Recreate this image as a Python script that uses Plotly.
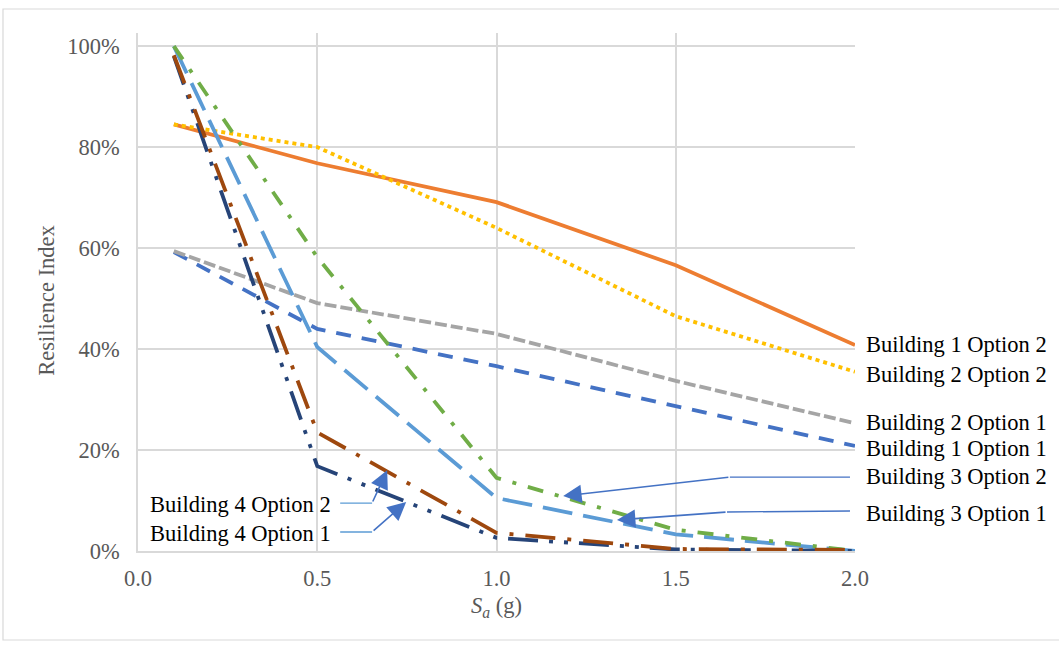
import plotly.graph_objects as go

# Spectral acceleration levels (g)
sa = [0.1, 0.5, 1.0, 1.5, 2.0]

# Resilience index per building / retrofit option
b1_opt1 = [0.592, 0.440, 0.366, 0.287, 0.208]
b1_opt2 = [0.845, 0.768, 0.691, 0.566, 0.408]
b2_opt1 = [0.594, 0.491, 0.430, 0.337, 0.253]
b2_opt2 = [0.845, 0.800, 0.640, 0.465, 0.355]
b3_opt1 = [1.000, 0.404, 0.105, 0.033, 0.000]
b3_opt2 = [1.000, 0.582, 0.145, 0.042, 0.000]
b4_opt1 = [0.980, 0.168, 0.026, 0.003, 0.000]
b4_opt2 = [0.982, 0.235, 0.036, 0.004, 0.002]

x_ticks = [0.0, 0.5, 1.0, 1.5, 2.0]
x_tick_text = ["0.0", "0.5", "1.0", "1.5", "2.0"]
y_ticks = [0.0, 0.2, 0.4, 0.6, 0.8, 1.0]
y_tick_text = ["0%", "20%", "40%", "60%", "80%", "100%"]

FONT = "Liberation Serif, Times New Roman, serif"
GRID = "#d9d9d9"
LW = 3.8
Y_TOP = 1.026

series = [
    ("Building 1 Option 1", b1_opt1, "#4472c4", "15px,11px"),
    ("Building 1 Option 2", b1_opt2, "#ed7d31", "solid"),
    ("Building 2 Option 1", b2_opt1, "#a5a5a5", "12px,4px"),
    ("Building 2 Option 2", b2_opt2, "#ffc000", "4px,4px"),
    ("Building 3 Option 1", b3_opt1, "#5b9bd5", "30px,11px"),
    ("Building 3 Option 2", b3_opt2, "#70ad47", "16px,12px,4px,12px"),
    ("Building 4 Option 1", b4_opt1, "#264478", "30px,11px,4px,11px,4px,11px"),
    ("Building 4 Option 2", b4_opt2, "#9e480e", "30px,12px,4px,12px"),
]

fig = go.Figure()
for name, vals, color, dash in series:
    fig.add_trace(go.Scatter(
        x=sa, y=vals, mode="lines", name=name,
        line=dict(color=color, width=LW, dash=dash),
        showlegend=False, hoverinfo="skip",
    ))

annotations = []
shapes = []

# Series labels beside the line ends (paper units, outside the plot area)
right_labels = [
    ("Building 1 Option 2", 0.410),
    ("Building 2 Option 2", 0.3505),
    ("Building 2 Option 1", 0.2555),
    ("Building 1 Option 1", 0.204),
    ("Building 3 Option 2", 0.1466),
    ("Building 3 Option 1", 0.0752),
]
for text, yv in right_labels:
    annotations.append(dict(
        x=1.0126, y=yv / Y_TOP, xref="paper", yref="paper", text=text,
        showarrow=False, xanchor="left", yanchor="middle",
        font=dict(family=FONT, size=22.5, color="#000000"),
    ))

left_labels = [
    ("Building 4 Option 2", 0.093),
    ("Building 4 Option 1", 0.034),
]
for text, yv in left_labels:
    annotations.append(dict(
        x=0.545, y=yv, xref="x", yref="y", text=text, showarrow=False,
        xanchor="right", yanchor="middle",
        font=dict(family=FONT, size=22.5, color="#000000"),
    ))

# Leader lines: (start, bend, arrow tip) in data units
leaders = [
    ((1.986, 0.1465), (1.651, 0.1465), (1.186, 0.109), "#4472c4"),
    ((1.986, 0.0792), (1.643, 0.0772), (1.336, 0.0614), "#4472c4"),
    ((0.564, 0.095), (0.653, 0.095), (0.695, 0.160), "#5b9bd5"),
    ((0.564, 0.0376), (0.653, 0.0376), (0.748, 0.097), "#5b9bd5"),
]
for (x0, y0), (x1, y1), (x2, y2), c in leaders:
    shapes.append(dict(type="line", xref="x", yref="y", x0=x0, y0=y0, x1=x1, y1=y1,
                       line=dict(color=c, width=1.3)))
    annotations.append(dict(
        x=x2, y=y2, ax=x1, ay=y1, xref="x", yref="y", axref="x", ayref="y",
        text="", showarrow=True, arrowhead=2, arrowsize=2.3, arrowwidth=1.6,
        arrowcolor="#4472c4", standoff=0, startstandoff=0,
    ))

# Axis titles
annotations.append(dict(
    x=-0.127, y=0.485, xref="paper", yref="paper", text="Resilience Index",
    textangle=-90, showarrow=False, xanchor="center", yanchor="middle",
    font=dict(family=FONT, size=22.5, color="#595959"),
))
annotations.append(dict(
    x=0.5, y=-0.108, xref="paper", yref="paper",
    text="<i>S<sub>a</sub></i> (g)", showarrow=False,
    xanchor="center", yanchor="middle",
    font=dict(family=FONT, size=22.5, color="#595959"),
))

# Chart frame
shapes.append(dict(type="rect", xref="paper", yref="paper",
                   x0=-0.1883, x1=1.45, y0=-0.1718, y1=1.0463,
                   line=dict(color=GRID, width=1.2), layer="below"))

fig.update_layout(
    width=1059, height=645,
    margin=dict(l=138, r=204, t=33, b=94),
    paper_bgcolor="white", plot_bgcolor="white",
    font=dict(family=FONT, size=22.5, color="#595959"),
    annotations=annotations, shapes=shapes,
)
fig.update_xaxes(
    range=[0, 2], tickvals=x_ticks, ticktext=x_tick_text,
    showgrid=True, gridcolor=GRID, gridwidth=1.5,
    showline=True, linecolor=GRID, linewidth=1.5,
    zeroline=False, ticks="", ticklabelstandoff=6,
    tickfont=dict(family=FONT, size=22.5, color="#595959"),
)
fig.update_yaxes(
    range=[0, Y_TOP], tickvals=y_ticks, ticktext=y_tick_text,
    showgrid=True, gridcolor=GRID, gridwidth=1.5,
    showline=True, linecolor=GRID, linewidth=1.5,
    zeroline=False, ticks="", ticklabelstandoff=12,
    tickfont=dict(family=FONT, size=22.5, color="#595959"),
)

fig.write_html("out.html")
